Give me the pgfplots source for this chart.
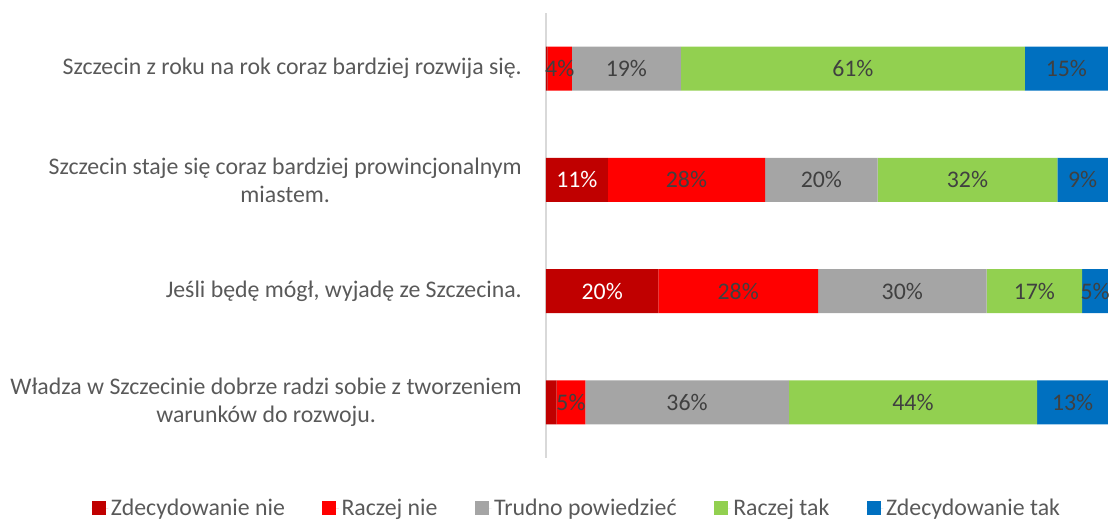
\documentclass[border=0pt]{standalone}
\usepackage{pgfplots}
\pgfplotsset{compat=1.18}
\usepackage{fontspec}
\setmainfont{Carlito}
\definecolor{cdr}{HTML}{C00000}
\definecolor{cr}{HTML}{FF0000}
\definecolor{cg}{HTML}{A5A5A5}
\definecolor{cgr}{HTML}{92D050}
\definecolor{cb}{HTML}{0070C0}
\definecolor{txt}{HTML}{595959}
\definecolor{lab}{HTML}{404040}
\begin{document}
\begin{tikzpicture}
\path[use as bounding box] (-409.5pt,-46.5pt) rectangle (423.75pt,343.5pt);
\begin{axis}[
  at={(0,0)}, anchor=south west,
  scale only axis, width=421.5pt, height=333.75pt,
  xbar stacked, bar width=33pt,
  xmin=0, xmax=100, ymin=0.5, ymax=4.5,
  axis x line=none, axis y line*=left,
  axis line style={-, draw=black!15, line width=1.5pt},
  ytick={1,2,3,4},
  yticklabels={{Władza w Szczecinie dobrze radzi sobie z tworzeniem\\warunków do rozwoju.},{Jeśli będę mógł, wyjadę ze Szczecina.},{Szczecin staje się coraz bardziej prowincjonalnym\\miastem.},{Szczecin z roku na rok coraz bardziej rozwija się.}},
  y tick label style={align=center, font=\fontsize{17.85}{21}\selectfont, text=txt, inner sep=0pt, xshift=-18pt},
  major tick length=0pt, ytick style={draw=none},
  /pgf/number format/assume math mode=true,
  visualization depends on={rawx \as \rawx},
  nodes near coords={\pgfmathtruncatemacro\sh{\rawx>2.5}\ifnum\sh=1 \pgfmathprintnumber[fixed,precision=0]{\rawx}\%\fi},
  every node near coord/.append style={anchor=center, text=lab, font=\fontsize{17.85}{21}\selectfont},
  legend image code/.code={\fill[#1] (0pt,-5.25pt) rectangle (10.5pt,5.25pt); \path (0pt,0pt) -- (12.5pt,0pt);},
  legend style={draw=none, fill=none, font=\fontsize{17.85}{21}\selectfont, text=txt,
    legend columns=5, at={(0.0555,-0.1124)}, anchor=center,
    /tikz/every even column/.append style={column sep=26pt},
    nodes={inner sep=2pt}},
  legend cell align=left,
]
\addplot[fill=cdr, draw=none, every node near coord/.append style={text=white}] coordinates {(1.9,1) (20,2) (11,3) (0.3,4)};
\addplot[fill=cr, draw=none] coordinates {(5.1,1) (28.4,2) (28,3) (4.3,4)};
\addplot[fill=cg, draw=none] coordinates {(36.2,1) (30,2) (20,3) (19.4,4)};
\addplot[fill=cgr, draw=none] coordinates {(44.2,1) (17,2) (32,3) (61.2,4)};
\addplot[fill=cb, draw=none] coordinates {(12.6,1) (4.6,2) (9,3) (14.8,4)};
\legend{Zdecydowanie nie, Raczej nie, Trudno powiedzieć, Raczej tak, Zdecydowanie tak}
\end{axis}
\end{tikzpicture}
\end{document}
